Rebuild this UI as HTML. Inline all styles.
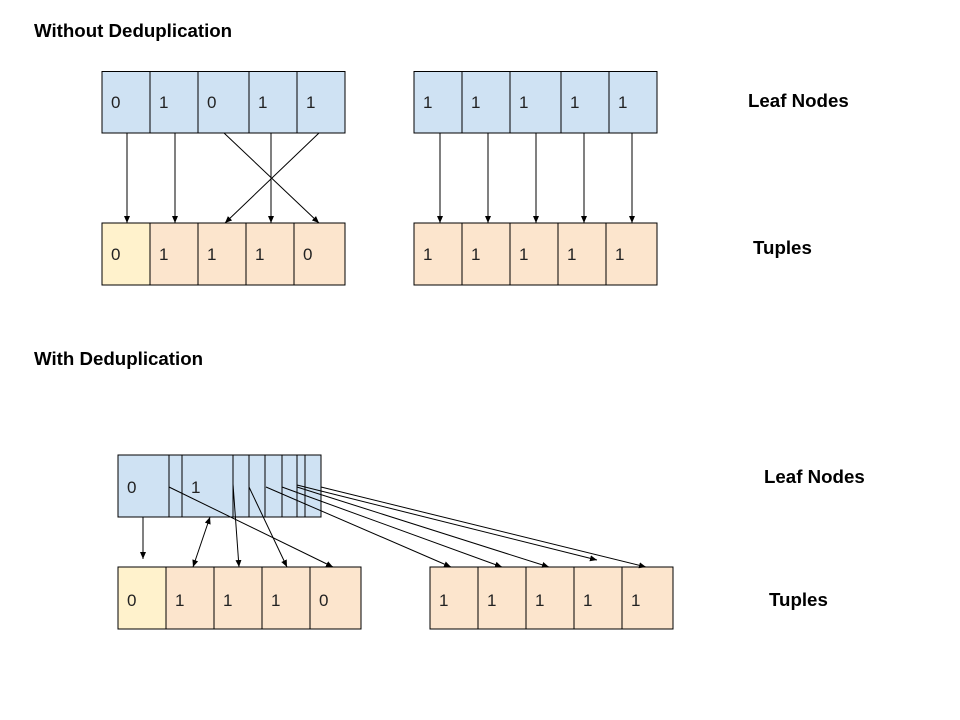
<!DOCTYPE html>
<html><head><meta charset="utf-8"><style>
html,body{margin:0;padding:0;background:#fff;}
svg{display:block;}
text{font-family:"Liberation Sans",Arial,sans-serif;}
.b{font-weight:bold;font-size:18.7px;fill:#000;}
.c{font-size:17px;fill:#222;}
</style></head><body>
<svg width="960" height="720" viewBox="0 0 960 720" xmlns="http://www.w3.org/2000/svg">
<defs>
<marker id="a" markerWidth="8" markerHeight="8" refX="7" refY="4" orient="auto" markerUnits="userSpaceOnUse">
<path d="M0,1 L7,4 L0,7 z" fill="#000"/></marker>
<marker id="s" markerWidth="8" markerHeight="8" refX="0" refY="4" orient="auto" markerUnits="userSpaceOnUse">
<path d="M7,1 L0,4 L7,7 z" fill="#000"/></marker>
</defs>
<text class="b" x="34" y="37">Without Deduplication</text>
<text class="b" x="748" y="107">Leaf Nodes</text>
<text class="b" x="753" y="254">Tuples</text>
<text class="b" x="34" y="365">With Deduplication</text>
<text class="b" x="764" y="483">Leaf Nodes</text>
<text class="b" x="769" y="606">Tuples</text>

<g stroke="#000" stroke-width="1">
<rect x="102" y="71.5" width="48" height="61.5" fill="#cfe2f3"/>
<rect x="150" y="71.5" width="48" height="61.5" fill="#cfe2f3"/>
<rect x="198" y="71.5" width="51" height="61.5" fill="#cfe2f3"/>
<rect x="249" y="71.5" width="48" height="61.5" fill="#cfe2f3"/>
<rect x="297" y="71.5" width="48" height="61.5" fill="#cfe2f3"/>
<rect x="414" y="71.5" width="48" height="61.5" fill="#cfe2f3"/>
<rect x="462" y="71.5" width="48" height="61.5" fill="#cfe2f3"/>
<rect x="510" y="71.5" width="51" height="61.5" fill="#cfe2f3"/>
<rect x="561" y="71.5" width="48" height="61.5" fill="#cfe2f3"/>
<rect x="609" y="71.5" width="48" height="61.5" fill="#cfe2f3"/>
<rect x="102" y="223" width="48" height="62" fill="#fff2cc"/>
<rect x="150" y="223" width="48" height="62" fill="#fce5cd"/>
<rect x="198" y="223" width="48" height="62" fill="#fce5cd"/>
<rect x="246" y="223" width="48" height="62" fill="#fce5cd"/>
<rect x="294" y="223" width="51" height="62" fill="#fce5cd"/>
<rect x="414" y="223" width="48" height="62" fill="#fce5cd"/>
<rect x="462" y="223" width="48" height="62" fill="#fce5cd"/>
<rect x="510" y="223" width="48" height="62" fill="#fce5cd"/>
<rect x="558" y="223" width="48" height="62" fill="#fce5cd"/>
<rect x="606" y="223" width="51" height="62" fill="#fce5cd"/>
<line x1="127" y1="133" x2="127" y2="223" marker-end="url(#a)"/>
<line x1="175" y1="133" x2="175" y2="223" marker-end="url(#a)"/>
<line x1="224" y1="133" x2="319" y2="223" marker-end="url(#a)"/>
<line x1="319" y1="133" x2="225" y2="223" marker-end="url(#a)"/>
<line x1="271" y1="133" x2="271" y2="223" marker-end="url(#a)"/>
<line x1="440" y1="133" x2="440" y2="223" marker-end="url(#a)"/>
<line x1="488" y1="133" x2="488" y2="223" marker-end="url(#a)"/>
<line x1="536" y1="133" x2="536" y2="223" marker-end="url(#a)"/>
<line x1="584" y1="133" x2="584" y2="223" marker-end="url(#a)"/>
<line x1="632" y1="133" x2="632" y2="223" marker-end="url(#a)"/>

<rect x="118" y="455" width="203" height="62" fill="#cfe2f3"/>
<line x1="169" y1="455" x2="169" y2="517"/>
<line x1="182" y1="455" x2="182" y2="517"/>
<line x1="233" y1="455" x2="233" y2="517"/>
<line x1="249" y1="455" x2="249" y2="517"/>
<line x1="265" y1="455" x2="265" y2="517"/>
<line x1="282" y1="455" x2="282" y2="517"/>
<line x1="297" y1="455" x2="297" y2="517"/>
<line x1="305" y1="455" x2="305" y2="517"/>
<rect x="118" y="567" width="48" height="62" fill="#fff2cc"/>
<rect x="166" y="567" width="48" height="62" fill="#fce5cd"/>
<rect x="214" y="567" width="48" height="62" fill="#fce5cd"/>
<rect x="262" y="567" width="48" height="62" fill="#fce5cd"/>
<rect x="310" y="567" width="51" height="62" fill="#fce5cd"/>
<rect x="430" y="567" width="48" height="62" fill="#fce5cd"/>
<rect x="478" y="567" width="48" height="62" fill="#fce5cd"/>
<rect x="526" y="567" width="48" height="62" fill="#fce5cd"/>
<rect x="574" y="567" width="48" height="62" fill="#fce5cd"/>
<rect x="622" y="567" width="51" height="62" fill="#fce5cd"/>
<line x1="143" y1="517" x2="143" y2="559" marker-end="url(#a)"/>
<line x1="193" y1="567" x2="210" y2="517" marker-start="url(#s)" marker-end="url(#a)"/>
<line x1="233" y1="484" x2="239" y2="567" marker-end="url(#a)"/>
<line x1="249" y1="487" x2="287" y2="567" marker-end="url(#a)"/>
<line x1="169" y1="487" x2="333" y2="567" marker-end="url(#a)"/>
<line x1="266" y1="487" x2="451" y2="567" marker-end="url(#a)"/>
<line x1="282" y1="487" x2="502" y2="567" marker-end="url(#a)"/>
<line x1="297" y1="487" x2="549" y2="567" marker-end="url(#a)"/>
<line x1="297" y1="485" x2="597" y2="560" marker-end="url(#a)"/>
<line x1="321" y1="487" x2="646" y2="567" marker-end="url(#a)"/>
</g>

<g class="c">
<text class="c" x="111" y="108">0</text><text class="c" x="159" y="108">1</text><text class="c" x="207" y="108">0</text><text class="c" x="258" y="108">1</text><text class="c" x="306" y="108">1</text>
<text class="c" x="423" y="108">1</text><text class="c" x="471" y="108">1</text><text class="c" x="519" y="108">1</text><text class="c" x="570" y="108">1</text><text class="c" x="618" y="108">1</text>
<text class="c" x="111" y="260">0</text><text class="c" x="159" y="260">1</text><text class="c" x="207" y="260">1</text><text class="c" x="255" y="260">1</text><text class="c" x="303" y="260">0</text>
<text class="c" x="423" y="260">1</text><text class="c" x="471" y="260">1</text><text class="c" x="519" y="260">1</text><text class="c" x="567" y="260">1</text><text class="c" x="615" y="260">1</text>
<text class="c" x="127" y="493">0</text><text class="c" x="191" y="493">1</text>
<text class="c" x="127" y="606">0</text><text class="c" x="175" y="606">1</text><text class="c" x="223" y="606">1</text><text class="c" x="271" y="606">1</text><text class="c" x="319" y="606">0</text>
<text class="c" x="439" y="606">1</text><text class="c" x="487" y="606">1</text><text class="c" x="535" y="606">1</text><text class="c" x="583" y="606">1</text><text class="c" x="631" y="606">1</text>
</g>
</svg>
</body></html>
